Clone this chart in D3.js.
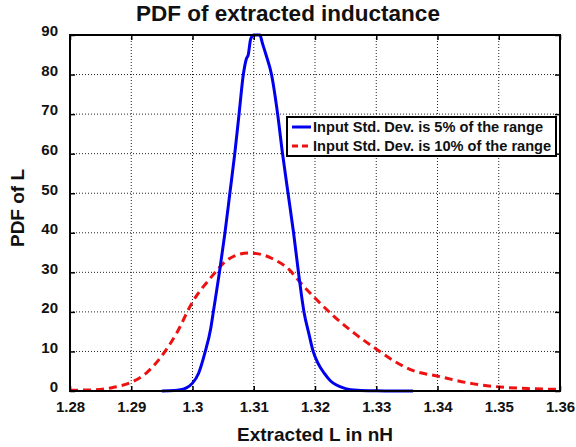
<!DOCTYPE html>
<html>
<head>
<meta charset="utf-8">
<script src="https://cdn.jsdelivr.net/npm/d3@7"></script>
<style>
  body { margin: 0; background: #fff; }
  svg { display: block; font-family: "Liberation Sans", Arial, sans-serif; font-weight: bold; }
</style>
</head>
<body>
<svg id="chart"></svg>
<script>
// tick values and labels
const xTicks = [1.28, 1.29, 1.30, 1.31, 1.32, 1.33, 1.34, 1.35, 1.36];
const xTickLabels = ["1.28", "1.29", "1.3", "1.31", "1.32", "1.33", "1.34", "1.35", "1.36"];
const yTicks = [0, 10, 20, 30, 40, 50, 60, 70, 80, 90];

// series: std dev 5% of range (blue)
const blueX = [1.295, 1.297, 1.298, 1.299, 1.300, 1.301, 1.302, 1.303, 1.3034, 1.3044, 1.3053, 1.3061, 1.3069,
  1.3076, 1.3083, 1.3088, 1.3091, 1.3095, 1.3100, 1.3105, 1.3110, 1.3114, 1.3120, 1.3129, 1.3139, 1.3147,
  1.3156, 1.3165, 1.3173, 1.3182, 1.3190, 1.3197, 1.3205, 1.3215, 1.3225, 1.3235, 1.325, 1.327, 1.330, 1.333, 1.336];
const blueY = [0, 0.1, 0.3, 0.8, 2.0, 4.5, 9.5, 16, 20, 30, 40, 50, 60,
  70, 80, 84, 85, 89, 90, 90, 90, 88, 85, 80, 70, 60,
  50, 40, 30, 20, 14.5, 10, 7, 4.5, 2.6, 1.5, 0.6, 0.2, 0.05, 0, 0];

// series: std dev 10% of range (red dashed)
const redX = [1.28, 1.2838, 1.287, 1.29, 1.2925, 1.2947, 1.2974, 1.300, 1.3029, 1.3056, 1.3075, 1.3091, 1.3110,
  1.3130, 1.3159, 1.3176, 1.3200, 1.3230, 1.3265, 1.3301, 1.3330, 1.3356, 1.3402, 1.3459, 1.3503, 1.3550, 1.36];
const redY = [0.2, 0.3, 0.9, 2.2, 4.6, 8.3, 14.6, 22.5, 28.5, 33.0, 34.5, 34.9, 34.6,
  33.5, 30.5, 27.4, 23.5, 19.0, 14.5, 10.5, 7.5, 5.4, 3.7, 1.8, 1.0, 0.6, 0.4];

const seriesNames = ["Input Std. Dev. is 5% of the range", "Input Std. Dev. is 10% of the range"];

const width = 576, height = 447;
const margin = { top: 35, right: 16, bottom: 56, left: 70 };
const innerW = width - margin.left - margin.right;
const innerH = height - margin.top - margin.bottom;

const svg = d3.select("#chart").attr("width", width).attr("height", height);
const g = svg.append("g").attr("transform", `translate(${margin.left},${margin.top})`);

const x = d3.scaleLinear().domain([1.28, 1.36]).range([0, innerW]);
const y = d3.scaleLinear().domain([0, 90]).range([innerH, 0]);

// dotted grid
g.append("g").selectAll("line.vg")
  .data(xTicks.slice(1, -1))
  .join("line")
  .attr("x1", d => x(d)).attr("x2", d => x(d))
  .attr("y1", 0).attr("y2", innerH)
  .attr("stroke", "#222").attr("stroke-width", 1).attr("stroke-dasharray", "1,2");
g.append("g").selectAll("line.hg")
  .data(yTicks.slice(1, -1))
  .join("line")
  .attr("x1", 0).attr("x2", innerW)
  .attr("y1", d => y(d)).attr("y2", d => y(d))
  .attr("stroke", "#222").attr("stroke-width", 1).attr("stroke-dasharray", "1,2");

// curves
const line = d3.line().x(d => x(d[0])).y(d => y(d[1])).curve(d3.curveMonotoneX);
g.append("path")
  .datum(redX.map((v, i) => [v, redY[i]]))
  .attr("d", line)
  .attr("fill", "none").attr("stroke", "#ee1111").attr("stroke-width", 3)
  .attr("stroke-dasharray", "8,5");
g.append("path")
  .datum(blueX.map((v, i) => [v, blueY[i]]))
  .attr("d", line)
  .attr("fill", "none").attr("stroke", "#0000ee").attr("stroke-width", 3);

// axes
const xAxis = d3.axisBottom(x).tickValues(xTicks).tickFormat((d, i) => xTickLabels[i])
  .tickSizeInner(-5).tickSizeOuter(0).tickPadding(10);
const yAxis = d3.axisLeft(y).tickValues(yTicks).tickFormat(d3.format("d"))
  .tickSizeInner(-5).tickSizeOuter(0).tickPadding(12);

const xg = g.append("g").attr("transform", `translate(0,${innerH})`).call(xAxis);
const yg = g.append("g").call(yAxis);
g.append("g").call(d3.axisTop(x).tickValues(xTicks).tickFormat("").tickSizeInner(-5).tickSizeOuter(0));
g.append("g").attr("transform", `translate(${innerW},0)`)
  .call(d3.axisRight(y).tickValues(yTicks).tickFormat("").tickSizeInner(-5).tickSizeOuter(0));

svg.selectAll(".domain").remove();
svg.selectAll(".tick line").attr("stroke", "#000").attr("stroke-width", 1.5);
xg.selectAll("text").attr("font-size", 15).attr("font-weight", "bold").attr("fill", "#111")
  .attr("font-family", "Liberation Sans, Arial, sans-serif");
yg.selectAll("text").attr("font-size", 15).attr("font-weight", "bold").attr("fill", "#111")
  .attr("font-family", "Liberation Sans, Arial, sans-serif")
  .attr("transform", "translate(0,-4)");

// frame
g.append("rect").attr("width", innerW).attr("height", innerH)
  .attr("fill", "none").attr("stroke", "#000").attr("stroke-width", 2);

// title and axis labels
svg.append("text").attr("x", 288).attr("y", 21).attr("text-anchor", "middle")
  .attr("font-size", 22.5).attr("fill", "#111").text("PDF of extracted inductance");
svg.append("text").attr("x", margin.left + innerW / 2).attr("y", 441).attr("text-anchor", "middle")
  .attr("font-size", 19).attr("fill", "#111").text("Extracted L in nH");
svg.append("text").attr("transform", "translate(24,208) rotate(-90)").attr("text-anchor", "middle")
  .attr("font-size", 19).attr("fill", "#111").text("PDF of L");

// legend
const lg = svg.append("g").attr("transform", "translate(287,117)");
lg.append("rect").attr("width", 269).attr("height", 39)
  .attr("fill", "#fff").attr("stroke", "#000").attr("stroke-width", 2);
const legColors = ["#0000ee", "#ee1111"];
const legDash = [null, "6,4"];
seriesNames.forEach((name, i) => {
  const yy = 10 + i * 19;
  lg.append("line").attr("x1", 5).attr("x2", 24).attr("y1", yy).attr("y2", yy)
    .attr("stroke", legColors[i]).attr("stroke-width", 3).attr("stroke-dasharray", legDash[i]);
  lg.append("text").attr("x", 26).attr("y", yy + 5).attr("font-size", 14.6).attr("fill", "#111").text(name);
});
</script>
</body>
</html>
